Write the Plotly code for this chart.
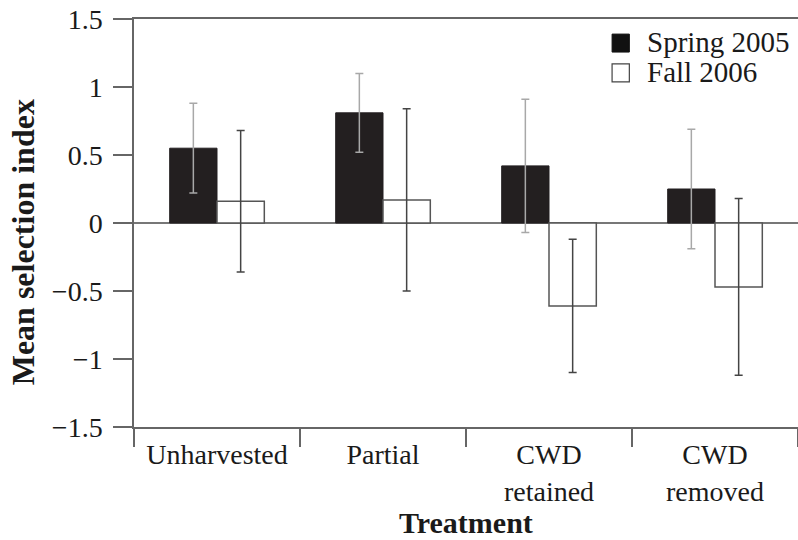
import plotly.graph_objects as go

categories = ["Unharvested", "Partial", "CWD<br>retained", "CWD<br>removed"]
spring_2005 = [0.55, 0.81, 0.42, 0.25]
spring_err = [0.33, 0.29, 0.49, 0.44]
fall_2006 = [0.16, 0.17, -0.61, -0.47]
fall_err = [0.52, 0.67, 0.49, 0.65]
y_ticks = [-1.5, -1, -0.5, 0, 0.5, 1, 1.5]
y_ticklabels = ["\u22121.5", "\u22121", "\u22120.5", "0", "0.5", "1", "1.5"]
series_names = ["Spring 2005", "Fall 2006"]

FONT = "Liberation Serif"
AX = "#666666"
TXT = "#1a1a1a"

fig = go.Figure()
fig.add_trace(go.Bar(
    name=series_names[0], x=categories, y=spring_2005,
    marker=dict(color="#231f20", line=dict(color="#231f20", width=1)),
    error_y=dict(type="data", array=spring_err, color="#a8a8a8", thickness=1.5, width=4),
))
fig.add_trace(go.Bar(
    name=series_names[1], x=categories, y=fall_2006,
    marker=dict(color="white", line=dict(color="#555555", width=1.5)),
    error_y=dict(type="data", array=fall_err, color="#444444", thickness=1.5, width=4),
))

# manual legend (larger swatches like the reference)
shapes = [
    dict(type="rect", xref="paper", yref="paper", x0=0.720, x1=0.746, y0=0.919, y1=0.963,
         fillcolor="#111111", line=dict(color="#111111", width=1)),
    dict(type="rect", xref="paper", yref="paper", x0=0.720, x1=0.746, y0=0.846, y1=0.890,
         fillcolor="white", line=dict(color="#444444", width=1.2)),
]
legend_ann = [
    dict(text=series_names[0], xref="paper", yref="paper", x=0.770, y=0.943,
         xanchor="left", yanchor="middle", showarrow=False,
         font=dict(size=29, family=FONT, color=TXT)),
    dict(text=series_names[1], xref="paper", yref="paper", x=0.770, y=0.870,
         xanchor="left", yanchor="middle", showarrow=False,
         font=dict(size=29, family=FONT, color=TXT)),
]

fig.update_layout(
    width=798, height=540,
    margin=dict(l=134, r=0, t=19, b=113),
    paper_bgcolor="white", plot_bgcolor="white",
    barmode="group", bargap=0.43, bargroupgap=0,
    font=dict(family=FONT, size=28, color=TXT),
    showlegend=False,
    xaxis=dict(showline=True, linecolor=AX, linewidth=1.5, mirror=True,
               ticks="outside", tickson="boundaries", ticklen=18, tickcolor=AX, tickwidth=1.5,
               ticklabelstandoff=2,
               tickfont=dict(size=28, family=FONT, color=TXT), showgrid=False),
    yaxis=dict(range=[-1.5, 1.5], showline=True, linecolor=AX, linewidth=1.5,
               tickvals=y_ticks, ticktext=y_ticklabels,
               ticks="outside", ticklen=19, tickcolor=AX, tickwidth=1.5,
               ticklabelstandoff=5,
               tickfont=dict(size=28, family=FONT, color=TXT), showgrid=False,
               zeroline=True, zerolinecolor="#777777", zerolinewidth=1.5),
    shapes=shapes,
    annotations=legend_ann + [
        dict(text="<b>Mean selection index</b>", xref="paper", yref="paper",
             x=-0.167, y=0.453, textangle=-90, showarrow=False,
             font=dict(size=32, family=FONT, color=TXT), xanchor="center", yanchor="middle"),
        dict(text="<b>Treatment</b>", xref="paper", yref="paper",
             x=0.5, y=-0.234, showarrow=False,
             font=dict(size=30, family=FONT, color=TXT), xanchor="center", yanchor="middle"),
    ],
)

fig.write_html("out.html")
